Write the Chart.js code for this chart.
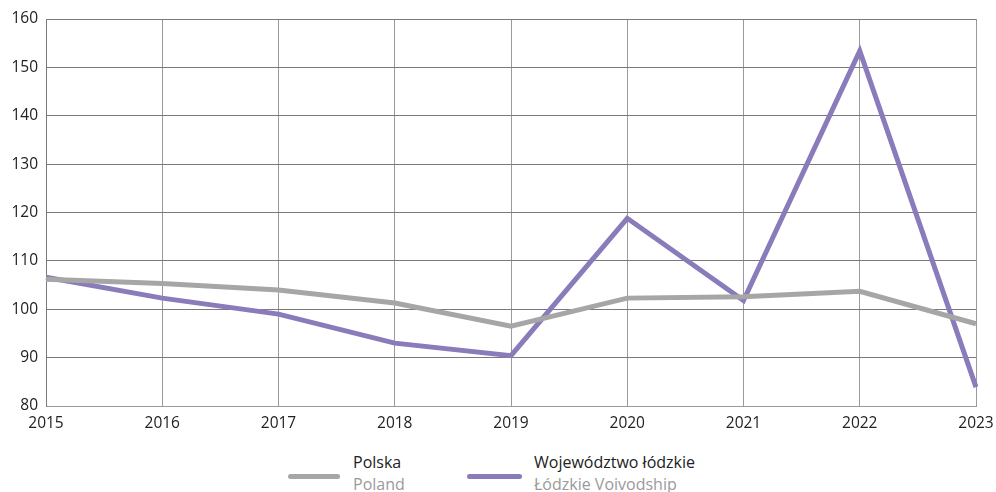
<!DOCTYPE html>
<html>
<head>
<meta charset="utf-8">
<script src="https://cdn.jsdelivr.net/npm/chart.js@4"></script>
<style>
  html, body { margin: 0; padding: 0; background: #fff; }
  #wrap { position: relative; width: 996px; height: 492px; font-family: "Open Sans", sans-serif; }
  #chartBox { position: absolute; left: 0; top: 0; width: 996px; height: 440px; }
  .key { position: absolute; top: 452px; }
  .key .swatch { position: absolute; top: 22px; height: 5px; border-radius: 3px; }
  .key .pl { position: absolute; white-space: nowrap; font-size: 16px; color: #222; line-height: 20px; }
  .key .en { position: absolute; top: 22px; white-space: nowrap; font-size: 16px; color: #9a9a9a; line-height: 20px; }
</style>
</head>
<body>
<div id="wrap">
  <div id="chartBox"><canvas id="lineChart"></canvas></div>
  <div class="key" style="left:288px">
    <div class="swatch" style="left:0;width:52px;background:#a6a6a6"></div>
    <div class="pl" style="left:65px">Polska</div>
    <div class="en" style="left:65px">Poland</div>
  </div>
  <div class="key" style="left:467px">
    <div class="swatch" style="left:0;width:55px;background:#8a7bbb"></div>
    <div class="pl" style="left:67px">Województwo łódzkie</div>
    <div class="en" style="left:67px">Łódzkie Voivodship</div>
  </div>
</div>
<script>
// years on the x axis
var years = ['2015', '2016', '2017', '2018', '2019', '2020', '2021', '2022', '2023'];
// Polska
var polska = [106.2, 105.3, 104.0, 101.3, 96.5, 102.3, 102.6, 103.7, 97.0];
// Województwo łódzkie
var lodzkie = [106.6, 102.3, 99.0, 93.0, 90.4, 118.8, 101.8, 153.4, 83.9];

var ctx = document.getElementById('lineChart');
var lineChart = new Chart(ctx, {
  type: 'line',
  data: {
    labels: years,
    datasets: [{
      label: 'Polska',
      data: polska,
      borderColor: '#a6a6a6',
      borderWidth: 5,
      pointRadius: 0,
      tension: 0,
      borderCapStyle: 'butt'
    }, {
      label: 'Województwo łódzkie',
      data: lodzkie,
      borderColor: '#8a7bbb',
      borderWidth: 5,
      pointRadius: 0,
      tension: 0
    }]
  },
  options: {
    responsive: true,
    maintainAspectRatio: false,
    animation: false,
    layout: { padding: { top: 19, right: 0, left: 0, bottom: 0 } },
    plugins: {
      legend: { display: false },
      tooltip: { enabled: false }
    },
    scales: {
      x: {
        offset: false,
        grid: { color: '#9a9a9a', lineWidth: 1, drawTicks: false },
        border: { color: '#9a9a9a' },
        ticks: {
          color: '#222',
          padding: 8,
          maxRotation: 0,
          font: { family: 'Open Sans', size: 15.5 }
        },
        afterFit: function (scale) {
          scale.height = 34;
          scale.paddingRight = 20;
        }
      },
      y: {
        min: 80,
        max: 160,
        grid: { color: '#7a7a7a', lineWidth: 1, drawTicks: false },
        border: { color: '#7a7a7a' },
        ticks: {
          stepSize: 10,
          color: '#222',
          padding: 8,
          font: { family: 'Open Sans', size: 15.5 }
        },
        afterFit: function (scale) { scale.width = 46; }
      }
    }
  }
});
</script>
</body>
</html>
